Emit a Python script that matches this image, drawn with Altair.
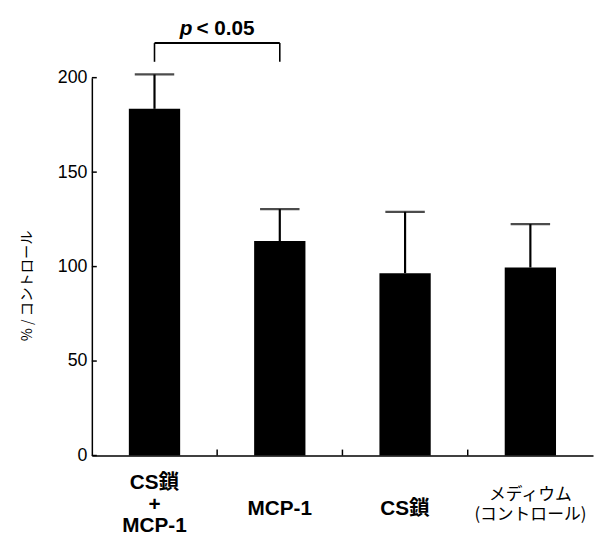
import altair as alt
import pandas as pd

categories = ["CS鎖+MCP-1", "MCP-1", "CS鎖", "メディウム"]
means = [183.5, 113.5, 96.5, 99.5]
upper = [201.7, 130.4, 129.0, 122.5]
label_main = ["CS鎖\n+\nMCP-1", "MCP-1", "CS鎖", "メディウム\n(コントロール)"]
y_ticks = [0, 50, 100, 150, 200]
sig_pair = ["CS鎖+MCP-1", "MCP-1"]
sig_low = 208.4
sig_high = 218.3
sig_p = "p"
sig_rest = "< 0.05"

df = pd.DataFrame({
    "cat": categories,
    "mean": means,
    "upper": upper,
    "main": label_main,
    "idx": list(range(len(categories))),
})
ticks_df = pd.DataFrame({"t": y_ticks})
bracket_h = pd.DataFrame({"a": [sig_pair[0]], "b": [sig_pair[1]], "y": [sig_high]})
bracket_v = pd.DataFrame({"cat": sig_pair, "lo": [sig_low, sig_low], "hi": [sig_high, sig_high]})
sig_df = pd.DataFrame({"cat": [sig_pair[1]], "p": [sig_p], "rest": [sig_rest], "y": [sig_high]})

xscale = alt.Scale(domain=categories, paddingInner=0, paddingOuter=0)
yscale = alt.Scale(domain=[0, 200], nice=False, zero=True)

X = alt.X("cat:N", sort=categories, scale=xscale,
          axis=alt.Axis(labels=False, ticks=False, title=None, domainColor="black",
                        domainWidth=1.5))
Y = alt.Y("mean:Q", scale=yscale,
          axis=alt.Axis(values=y_ticks, ticks=False, tickSize=0, labelFontSize=18,
                        labelFont="Liberation Sans", labelColor="black", labelPadding=5,
                        domainColor="black", domainWidth=1.5, grid=False,
                        title="% / コントロール", titleFont="Noto Sans CJK JP",
                        titleFontSize=14.5, titleFontWeight="normal", titleColor="black",
                        titleAngle=270, titleX=-65.5, titleY=210.5, titleAlign="center",
                        titleBaseline="middle"))

base = alt.Chart(df)
bars = base.mark_bar(color="black", size=52).encode(x=X, y=Y)
err = base.mark_rule(color="black", strokeWidth=2.2).encode(
    x=alt.X("cat:N", sort=categories, scale=xscale), y="mean:Q", y2="upper:Q")
caps = base.mark_tick(color="black", size=40, thickness=2.2).encode(
    x=alt.X("cat:N", sort=categories, scale=xscale), y=alt.Y("upper:Q", scale=yscale))

ytick_rules = alt.Chart(ticks_df).mark_rule(color="black", strokeWidth=1.5).encode(
    y=alt.Y("t:Q", scale=yscale), x=alt.value(0), x2=alt.value(5))
xtick_rules = base.transform_filter("datum.idx > 0").mark_rule(color="black", strokeWidth=1.5).encode(
    x=alt.X("cat:N", sort=categories, scale=xscale, bandPosition=0),
    y=alt.value(383), y2=alt.value(377))

br_h = alt.Chart(bracket_h).mark_rule(color="black", strokeWidth=2).encode(
    x=alt.X("a:N", scale=xscale, sort=categories), x2="b:N", y=alt.Y("y:Q", scale=yscale))
br_v = alt.Chart(bracket_v).mark_rule(color="black", strokeWidth=1.6).encode(
    x=alt.X("cat:N", scale=xscale, sort=categories), y=alt.Y("lo:Q", scale=yscale), y2="hi:Q")

p_txt = alt.Chart(sig_df).mark_text(font="Liberation Sans", fontSize=21, fontWeight="bold",
                                    fontStyle="italic", align="right", baseline="alphabetic",
                                    dx=-25, dy=-8, color="black").encode(
    x=alt.X("cat:N", scale=xscale, sort=categories, bandPosition=0),
    y=alt.Y("y:Q", scale=yscale), text="p:N")
rest_txt = alt.Chart(sig_df).mark_text(font="Liberation Sans", fontSize=21, fontWeight="bold",
                                       align="left", baseline="alphabetic",
                                       dx=-21, dy=-8, color="black").encode(
    x=alt.X("cat:N", scale=xscale, sort=categories, bandPosition=0),
    y=alt.Y("y:Q", scale=yscale), text="rest:N")

lab_font = "Liberation Sans, Noto Sans CJK JP"
lab1 = base.transform_filter("datum.idx == 0").mark_text(
    font=lab_font, fontSize=21, fontWeight="bold", lineBreak="\n", lineHeight=22,
    align="center", baseline="alphabetic", color="black").encode(
    x=alt.X("cat:N", scale=xscale, sort=categories), y=alt.value(417), text="main:N")
lab23 = base.transform_filter("datum.idx == 1 || datum.idx == 2").mark_text(
    font=lab_font, fontSize=21, fontWeight="bold",
    align="center", baseline="alphabetic", color="black").encode(
    x=alt.X("cat:N", scale=xscale, sort=categories), y=alt.value(443), text="main:N")
lab4 = base.transform_filter("datum.idx == 3").mark_text(
    font="Noto Sans CJK JP", fontSize=17, fontWeight="normal", lineBreak="\n",
    lineHeight=19.5, align="center", baseline="alphabetic", color="black").encode(
    x=alt.X("cat:N", scale=xscale, sort=categories), y=alt.value(428.5), text="main:N")

chart = alt.layer(bars, err, caps, ytick_rules, xtick_rules, br_h, br_v, p_txt, rest_txt,
                  lab1, lab23, lab4).properties(
    width=508, height=383,
    padding={"left": 85, "top": 67, "right": 1, "bottom": 80},
    autosize="none",
    background="white",
).configure_view(stroke=None)

chart.save("out.html", embed_options={"renderer": "svg", "actions": False})
